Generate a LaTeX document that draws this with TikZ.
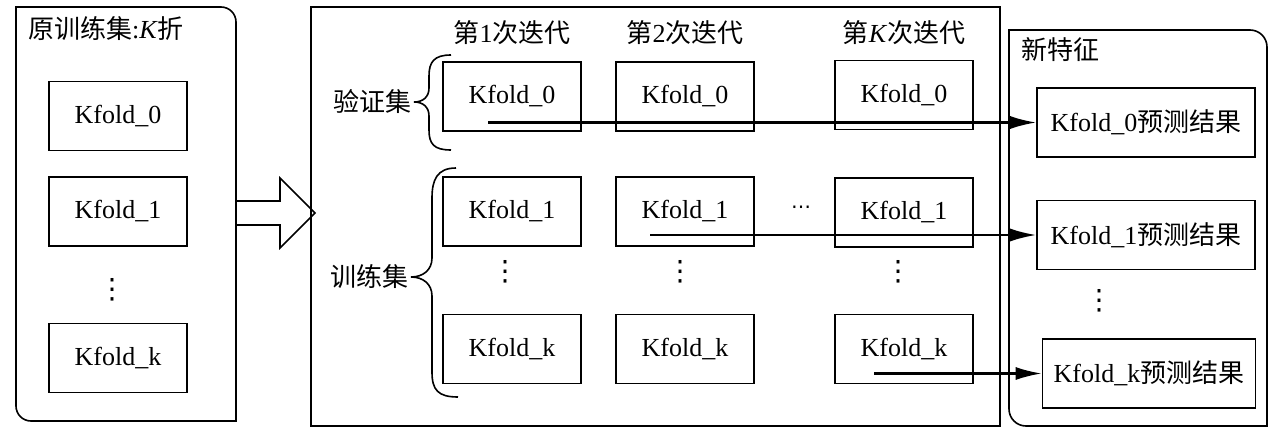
\documentclass[tikz,border=0pt]{standalone}
\usepackage{fontspec}
\setmainfont{Liberation Serif}
\newfontfamily\cjkfont{Noto Sans CJK SC}
\newfontfamily\symfont{DejaVu Sans}
\newcommand{\zhs}[1]{{\cjkfont #1}}
\usetikzlibrary{arrows.meta}
\begin{document}
\begin{tikzpicture}[x=1pt,y=-1pt,
  every node/.style={font=\fontsize{26}{30}\selectfont, inner sep=0pt},
  fold/.style={draw, line width=1.6pt, minimum width=138pt, minimum height=69pt},
  res/.style={draw, line width=1.6pt, minimum width=218pt, minimum height=69pt},
  frame/.style={line width=1.6pt},
  arr/.style={line width=2.2pt, -{Latex[length=26pt,width=13pt]}},
  brace/.style={line width=1.6pt},
  vd/.style={font=\fontsize{28}{30}\symfont}]
\useasboundingbox (0,0) rectangle (1280,436);
% left container
\draw[frame] (16,7) -- (221,7) arc[start angle=90,end angle=0,radius=15pt] -- (236,421) -- (31,421) arc[start angle=270,end angle=180,radius=15pt] -- cycle;
\node[anchor=west] (ltitle) at (28,29) {\zhs{原训练集}:\textit{K}\zhs{折}};
\node[fold] (L0) at (118,116) {Kfold\_0};
\node[fold] (L1) at (118,211.5) {Kfold\_1};
\node[vd] (Ld) at (112,290) {⋮};
\node[fold] (Lk) at (118,358) {Kfold\_k};
% big arrow
\draw[frame] (236,201) -- (280,201) -- (280,178) -- (315,213) -- (280,248) -- (280,225) -- (236,225);
% middle container
\draw[frame] (311,7) rectangle (1000,426);
\node (h1) at (512,33) {\zhs{第}1\zhs{次迭代}};
\node (h2) at (685,33) {\zhs{第}2\zhs{次迭代}};
\node (hk) at (904,33) {\zhs{第}\textit{K}\zhs{次迭代}};
\node[fold] (A0) at (512,96.5) {Kfold\_0};
\node[fold] (A1) at (512,211.5) {Kfold\_1};
\node[vd] (Ad) at (505,272) {⋮};
\node[fold] (Ak) at (512,349) {Kfold\_k};
\node[fold] (B0) at (685,96.5) {Kfold\_0};
\node[fold] (B1) at (685,211.5) {Kfold\_1};
\node[vd] (Bd) at (680,272) {⋮};
\node[fold] (Bk) at (685,349) {Kfold\_k};
\node[fold] (C0) at (904,95) {Kfold\_0};
\node[fold] (C1) at (904,212.5) {Kfold\_1};
\node[vd] (Cd) at (898,272) {⋮};
\node[fold] (Ck) at (904,349) {Kfold\_k};
\node[font=\fontsize{20}{22}\symfont] (hd) at (801,210) {⋯};
% braces and labels
\draw[brace] (451,55) .. controls (434,55) and (429,62) .. (429,76) -- (429,88) .. controls (429,97) and (423,102) .. (414,102) .. controls (423,102) and (429,107) .. (429,116) -- (429,130) .. controls (429,144) and (434,150) .. (451,150);
\node[anchor=east] (val) at (412,102) {\zhs{验证集}};
\draw[brace] (456,168) .. controls (437,168) and (432,180) .. (432,198) -- (432,258) .. controls (432,270) and (423,277) .. (411,277) .. controls (423,277) and (432,284) .. (432,296) -- (432,372) .. controls (432,390) and (438,397) .. (458,397);
\node[anchor=east] (trn) at (409,277) {\zhs{训练集}};
% right container
\draw[frame] (1009,30) -- (1250,30) arc[start angle=90,end angle=0,radius=17pt] -- (1267,426) -- (1026,426) arc[start angle=270,end angle=180,radius=17pt] -- cycle;
\node[anchor=west] (rtitle) at (1021,50) {\zhs{新特征}};
\node[res] (R0) at (1146,122.5) {Kfold\_0\zhs{预测结果}};
\node[res] (R1) at (1146,235) {Kfold\_1\zhs{预测结果}};
\node[vd] (Rd) at (1099,301) {⋮};
\node[res,minimum width=213pt] (Rk) at (1149,373.5) {Kfold\_k\zhs{预测结果}};
% connectors
\coordinate (s0) at (488,122.5);
\coordinate (s1) at (650,235);
\coordinate (sk) at (874,373.5);
\draw[arr] (s0) -- (s0 -| R0.west);
\draw[arr] (s1) -- (s1 -| R1.west);
\draw[arr] (sk) -- (sk -| Rk.west);
\end{tikzpicture}
\end{document}
